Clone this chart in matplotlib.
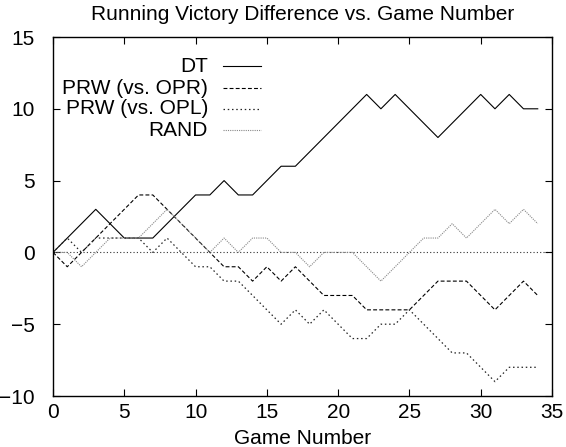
import matplotlib
matplotlib.use('Agg')
import matplotlib.pyplot as plt

# running victory difference per game
games = list(range(35))
dt = [0, 1, 2, 3, 2, 1, 1, 1, 2, 3, 4, 4, 5, 4, 4, 5, 6, 6, 7, 8,
      9, 10, 11, 10, 11, 10, 9, 8, 9, 10, 11, 10, 11, 10, 10]
prw_opr = [0, -1, 0, 1, 2, 3, 4, 4, 3, 2, 1, 0, -1, -1, -2, -1, -2, -1, -2, -3,
           -3, -3, -4, -4, -4, -4, -3, -2, -2, -2, -3, -4, -3, -2, -3]
prw_opl = [0, 1, 0, 1, 1, 1, 1, 0, 1, 0, -1, -1, -2, -2, -3, -4, -5, -4, -5, -4,
           -5, -6, -6, -5, -5, -4, -5, -6, -7, -7, -8, -9, -8, -8, -8]
rand = [0, 0, -1, 0, 1, 1, 1, 2, 3, 2, 1, 0, 1, 0, 1, 1, 0, 0, -1, 0,
        0, 0, -1, -2, -1, 0, 1, 1, 2, 1, 2, 3, 2, 3, 2]

labels = ["DT", "PRW (vs. OPR)", "PRW (vs. OPL)", "RAND"]
xticks = [0, 5, 10, 15, 20, 25, 30, 35]
yticks = [-10, -5, 0, 5, 10, 15]

plt.rcParams['font.family'] = ['Liberation Sans', 'DejaVu Sans']

fig = plt.figure(figsize=(5.66, 4.47), dpi=100)
ax = fig.add_axes([53 / 566, 1 - 396 / 447, 499 / 566, 359 / 447])

styles = [
    dict(color='black', linestyle='-', lw=0.8),
    dict(color='black', linestyle=(0, (3.5, 2)), lw=0.8),
    dict(color='#222222', linestyle=(0, (1.2, 2.2)), lw=0.9),
    dict(color='#888888', linestyle=(0, (1, 1)), lw=0.8),
]

# zero axis
ax.axhline(0, color='#333333', linestyle=(0, (1, 2)), lw=0.8, zorder=1)

series = [dt, prw_opr, prw_opl, rand]
for ys, st in zip(series, styles):
    ax.plot(games, ys, **st, zorder=2)

ax.set_xlim(0, 35)
ax.set_ylim(-10, 15)
ax.set_xticks(xticks)
ax.set_yticks(yticks)
ax.tick_params(direction='in', length=5, width=0.8, top=True, right=True,
               labelsize=15, colors='black')
ax.tick_params(axis='y', pad=13)
ax.tick_params(axis='x', pad=5)
for sp in ax.spines.values():
    sp.set_linewidth(1.0)

ax.set_title("Running Victory Difference vs. Game Number", fontsize=15, pad=12)
ax.set_xlabel("Game Number", fontsize=15, labelpad=5)

# gnuplot style key: right-aligned labels, sample line to the right
key_y = [65, 87, 108, 129]
for lab, st, py in zip(labels, styles, key_y):
    yy = 1 - (py - 36) / 359
    ax.text((208 - 53) / 499, yy, lab, transform=ax.transAxes,
            ha='right', va='center', fontsize=15)
    ax.plot([(223 - 53) / 499, (261 - 53) / 499], [yy, yy],
            transform=ax.transAxes, **st)

fig.savefig("out.png", dpi=100)
